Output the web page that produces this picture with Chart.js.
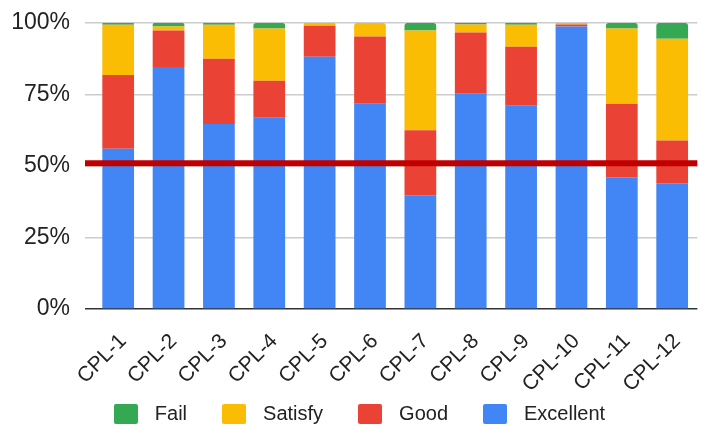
<!DOCTYPE html>
<html>
<head>
<meta charset="utf-8">
<script src="https://cdn.jsdelivr.net/npm/chart.js@4/dist/chart.umd.min.js"></script>
<style>
  html, body { margin: 0; padding: 0; background: #fff; }
  #wrap { width: 702px; height: 425px; position: relative; }
</style>
</head>
<body>
<div id="wrap"><canvas id="c"></canvas></div>
<script>
const categories = ['CPL-1','CPL-2','CPL-3','CPL-4','CPL-5','CPL-6','CPL-7','CPL-8','CPL-9','CPL-10','CPL-11','CPL-12'];
const excellent = [56.0, 84.6, 64.7, 66.9, 88.2, 71.8, 39.8, 75.3, 71.1, 98.8, 46.1, 44.0];
const good      = [25.8, 12.8, 22.8, 12.9, 10.8, 23.5, 22.7, 21.4, 20.6,  0.7, 25.6, 14.9];
const satisfy   = [17.6,  1.4, 11.9, 18.3,  1.0,  4.7, 34.9,  2.8,  7.7,  0.5, 26.4, 35.6];
const fail      = [ 0.6,  1.2,  0.6,  1.9,  0.0,  0.0,  2.6,  0.5,  0.6,  0.0,  1.9,  5.5];
const yTicks = [0, 25, 50, 75, 100];
const target = 51;

const seriesVals = [excellent, good, satisfy, fail];
const colors = ['#4285F4', '#EA4335', '#FBBC04', '#34A853'];

function topRadius(ctx) {
  const di = ctx.datasetIndex, i = ctx.dataIndex;
  if (di === undefined || i === undefined) return 0;
  for (let k = seriesVals.length - 1; k >= 0; k--) {
    if (seriesVals[k][i] > 0) {
      return k === di ? {topLeft: 3, topRight: 3, bottomLeft: 0, bottomRight: 0} : 0;
    }
  }
  return 0;
}

function swatch(color) {
  const cv = document.createElement('canvas');
  cv.width = 24; cv.height = 20;
  const g = cv.getContext('2d');
  g.fillStyle = color;
  g.beginPath();
  g.roundRect(0, 0, 24, 20, 2);
  g.fill();
  return cv;
}
const swatches = colors.map(swatch);

const targetLine = {
  id: 'targetLine',
  afterDatasetsDraw(chart) {
    const {ctx, chartArea, scales} = chart;
    const y = scales.y.getPixelForValue(target);
    ctx.save();
    ctx.strokeStyle = '#c00000';
    ctx.lineWidth = 6;
    ctx.beginPath();
    ctx.moveTo(chartArea.left - 8, y);
    ctx.lineTo(chartArea.right, y);
    ctx.stroke();
    ctx.restore();
  }
};

const legendPlace = {
  id: 'legendPlace',
  beforeLayout(chart) {
    const lg = chart.legend;
    if (lg && !lg._patched) {
      const orig = lg.fit;
      lg.fit = function () { orig.call(this); this.height = 36; };
      lg._patched = true;
    }
  },
  afterLayout(chart) {
    const lg = chart.legend;
    if (!lg) return;
    lg.top = 376;
    lg.bottom = 425;
    lg.left = 5;
    lg.right = chart.width + 5;
  }
};

const FONT = "'Liberation Sans', Arial, sans-serif";
const common = { barPercentage: 0.63, categoryPercentage: 1.0, borderWidth: 0, borderRadius: topRadius, borderSkipped: 'start' };

new Chart(document.getElementById('c'), {
  type: 'bar',
  data: {
    labels: categories,
    datasets: [
      Object.assign({ label: 'Excellent', data: excellent, backgroundColor: colors[0] }, common),
      Object.assign({ label: 'Good', data: good, backgroundColor: colors[1] }, common),
      Object.assign({ label: 'Satisfy', data: satisfy, backgroundColor: colors[2] }, common),
      Object.assign({ label: 'Fail', data: fail, backgroundColor: colors[3] }, common)
    ]
  },
  options: {
    responsive: true,
    maintainAspectRatio: false,
    animation: false,
    layout: { padding: { top: 0, left: 0, right: 0, bottom: 0 } },
    plugins: {
      legend: {
        position: 'bottom',
        reverse: true,
        labels: {
          font: { family: FONT, size: 20 },
          color: '#222',
          usePointStyle: true,
          pointStyleWidth: 38,
          boxHeight: 20,
          padding: 28,
          generateLabels(chart) {
            const items = Chart.defaults.plugins.legend.labels.generateLabels(chart);
            items.forEach(it => { it.pointStyle = swatches[it.datasetIndex]; });
            return items;
          }
        }
      },
      tooltip: { enabled: false }
    },
    scales: {
      x: {
        stacked: true,
        grid: { display: false },
        border: { display: false },
        ticks: {
          font: { family: FONT, size: 21 },
          color: '#222',
          maxRotation: 45,
          minRotation: 45,
          autoSkip: false,
          padding: 12,
          labelOffset: 5
        },
        afterFit(s) { s.height = 80; }
      },
      y: {
        stacked: true,
        min: 0,
        max: 100,
        afterBuildTicks(s) { s.ticks = yTicks.map(v => ({ value: v })); },
        grid: {
          color: (c) => (c.tick && c.tick.value === 0) ? '#333333' : '#cccccc',
          lineWidth: 1.5,
          tickLength: 8,
          drawTicks: true
        },
        border: { display: false },
        ticks: {
          font: { family: FONT, size: 23 },
          color: '#222',
          padding: 15,
          callback: (v) => v + '%'
        },
        afterFit(s) { s.width = 93; s.paddingTop = 23; s.paddingBottom = 0; }
      }
    }
  },
  plugins: [targetLine, legendPlace]
});
</script>
</body>
</html>
